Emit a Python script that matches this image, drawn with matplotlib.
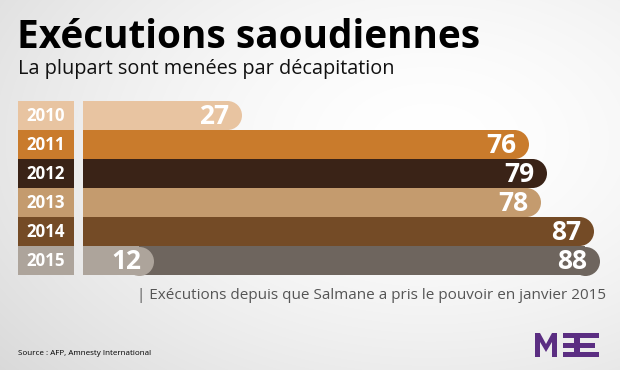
import numpy as np
import matplotlib.pyplot as plt
from matplotlib.patches import Rectangle, Polygon

years = ["2010", "2011", "2012", "2013", "2014", "2015"]
executions = [27, 76, 79, 78, 87, 88]
salman_2015 = 12
colors = ["#E8C4A1", "#C97B2C", "#3A2317", "#C49B6E", "#744B26", "#6E655E"]
salman_color = "#ADA49B"

W, H = 620, 370
plt.rcParams['font.family'] = ['Open Sans', 'DejaVu Sans']

fig = plt.figure(figsize=(W / 100, H / 100), dpi=100)


def fx(px):
    return px / W


def fy(py):
    return 1 - py / H


# soft grey vignette background
bg = fig.add_axes([0, 0, 1, 1], zorder=-10)
yy, xx = np.mgrid[0:H, 0:W]
d = np.sqrt(((xx - 430) / 520) ** 2 + ((yy - 140) / 330) ** 2)
shade = 1 - 0.13 * np.clip(d, 0, 1.25) ** 1.6
bg.imshow(np.dstack([shade] * 3), extent=[0, 1, 0, 1], aspect='auto')
bg.axis('off')

# bar area
left_px, zero_px, end_px = 18, 83, 599
top_px, bot_px = 101, 275
xmax = max(executions)
k = (end_px - zero_px) / xmax  # pixels per execution
xmin = -(zero_px - left_px) / k
ax = fig.add_axes([fx(left_px), fy(bot_px), fx(end_px - left_px), (bot_px - top_px) / H])
ax.set_xlim(xmin, xmax)
ax.set_ylim(len(years) - 0.5, -0.5)
ax.axis('off')

row_px = (bot_px - top_px) / len(years)
r = row_px / 2 / k  # cap radius in data units
cap_size = (row_px * 0.72) ** 2
box_right = -(zero_px - 74) / k


def rounded_bar(y, v, c):
    ax.barh(y, v - r, left=0, height=1.0, color=c, linewidth=0)
    ax.scatter([v - r], [y], s=cap_size, color=c, marker='o', linewidths=0)


for i, (yr, v, c) in enumerate(zip(years, executions, colors)):
    box_c = salman_color if yr == "2015" else c
    ax.add_patch(Rectangle((xmin, i - 0.5), box_right - xmin, 1.0, color=box_c, lw=0))
    ax.text((xmin + box_right) / 2, i + 0.03, yr, color='white', fontsize=12.2,
            fontweight='bold', ha='center', va='center')
    rounded_bar(i, v, c)
    ax.text(v - 12 / k, i + 0.04, str(v), color='white', fontsize=19,
            fontweight='bold', ha='right', va='center')

i15 = years.index("2015")
rounded_bar(i15, salman_2015, salman_color)
ax.text(salman_2015 - 12 / k, i15 + 0.04, str(salman_2015), color='white', fontsize=19,
        fontweight='bold', ha='right', va='center')

# titles and notes
fig.text(fx(17), fy(48), "Exécutions saoudiennes", fontsize=27.9, fontweight='bold',
         color='black', va='baseline', ha='left')
fig.text(fx(18), fy(74), "La plupart sont menées par décapitation", fontsize=14.3,
         color='#111111', va='baseline', ha='left')
fig.text(fx(606), fy(299), "| Exécutions depuis que Salmane a pris le pouvoir en janvier 2015",
         fontsize=11, color='#555555', va='baseline', ha='right')
fig.text(fx(18), fy(355), "Source : AFP, Amnesty International", fontsize=5.8,
         color='black', va='baseline', ha='left')

# MEE logo
lg = fig.add_axes([fx(535), fy(357), fx(64), 24 / H])
lg.set_xlim(0, 64)
lg.set_ylim(0, 24)
lg.axis('off')
purple = "#5B2E82"
lg.add_patch(Polygon([(0, 0), (0, 24), (5, 24), (11, 13), (17, 24), (22, 24), (22, 0),
                      (17, 0), (17, 15), (11, 5), (5, 15), (5, 0)], color=purple, lw=0))
lg.add_patch(Rectangle((39, 0), 6, 24, color=purple, lw=0))
for y0 in (0, 9.5, 19):
    lg.add_patch(Rectangle((28, y0), 11, 5, color=purple, lw=0))
lg.add_patch(Rectangle((45, 0), 19, 5, color=purple, lw=0))
lg.add_patch(Rectangle((45, 9.5), 15, 5, color=purple, lw=0))
lg.add_patch(Rectangle((45, 19), 19, 5, color=purple, lw=0))

fig.savefig("out.png", dpi=100)
